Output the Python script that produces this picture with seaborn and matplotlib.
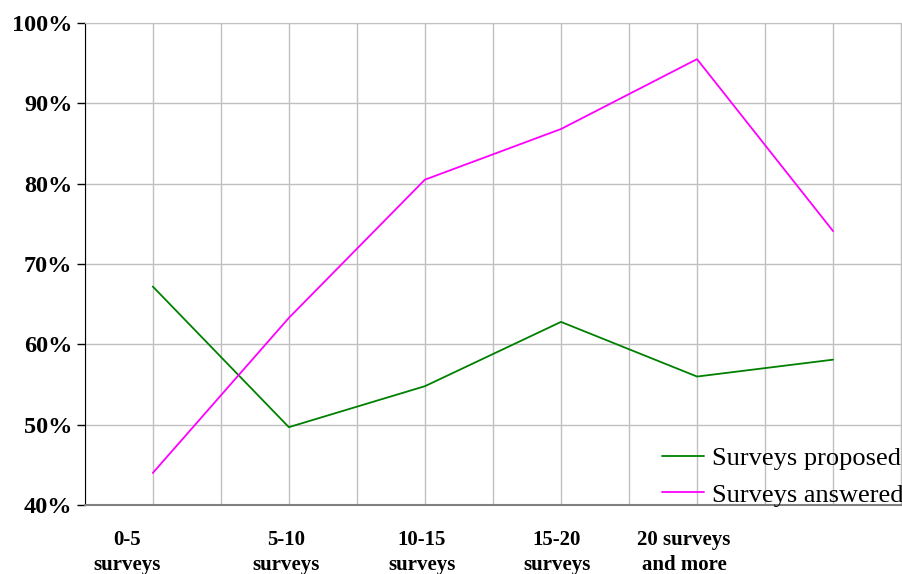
import numpy as np
import pandas as pd
import matplotlib
matplotlib.use("Agg")
import matplotlib.pyplot as plt
import matplotlib.transforms as mtransforms
import seaborn as sns
from matplotlib.ticker import MultipleLocator, PercentFormatter

# datos
categorias = ["0-5\nsurveys", "5-10\nsurveys", "10-15\nsurveys",
              "15-20\nsurveys", "20 surveys\nand more", ""]
propuestas = [67.2, 49.7, 54.8, 62.8, 56.0, 58.1]
respondidas = [44.0, 63.3, 80.5, 86.8, 95.5, 74.1]
series = ["Surveys proposed", "Surveys answered"]
colores = {"Surveys proposed": "#008000", "Surveys answered": "#ff00ff"}

df = pd.DataFrame({
    "pos": list(range(len(categorias))) * 2,
    "valor": propuestas + respondidas,
    "serie": [series[0]] * len(propuestas) + [series[1]] * len(respondidas),
})

sns.set_style("white")
plt.rcParams["font.family"] = ["Liberation Serif", "DejaVu Serif"]
plt.rcParams["text.color"] = "black"
plt.rcParams["xtick.color"] = "black"
plt.rcParams["ytick.color"] = "black"

fig = plt.figure(figsize=(9.02, 5.74), dpi=100)
ax = fig.add_axes([0.094, 0.120, 0.905, 0.840])

sns.lineplot(data=df, x="pos", y="valor", hue="serie", palette=colores,
             linewidth=1.3, ax=ax)

ax.set_xlim(-0.5, 5.5)
ax.set_ylim(40, 100)
ax.yaxis.set_major_locator(MultipleLocator(10))
ax.yaxis.set_major_formatter(PercentFormatter(decimals=0))
ax.set_xticks(range(len(categorias)))
ax.set_xticklabels(categorias, fontsize=15, fontweight="bold", linespacing=1.35)
ax.xaxis.set_minor_locator(MultipleLocator(0.5))
ax.grid(True, which="both", axis="x", color="#c0c0c0", linewidth=1)
ax.grid(True, which="major", axis="y", color="#c0c0c0", linewidth=1)
ax.tick_params(axis="x", which="both", length=0, pad=18)
ax.tick_params(axis="y", length=6, width=1, color="black", direction="out",
               labelsize=17.5, pad=3, left=True)
for lab in ax.get_yticklabels():
    lab.set_fontweight("bold")
ax.set_xlabel("")
ax.set_ylabel("")

# desplazamiento horizontal de las etiquetas como en el original
desplazamientos = [-26, -3, -3, -4, -13, 0]
for lab, dx in zip(ax.get_xticklabels(), desplazamientos):
    lab.set_transform(lab.get_transform() +
                      mtransforms.ScaledTranslation(dx / 100, 0, fig.dpi_scale_trans))

for lado in ["top", "right"]:
    ax.spines[lado].set_color("#c0c0c0")
ax.spines["left"].set_color("black")
ax.spines["bottom"].set_color("#808080")
ax.spines["bottom"].set_linewidth(1.5)

ax.legend(title=None, loc="lower right", frameon=False, fontsize=19,
          handlelength=1.6, handletextpad=0.3, labelspacing=0.5,
          borderaxespad=0.0, bbox_to_anchor=(1.016, -0.025))

fig.savefig("out.png", dpi=100)
